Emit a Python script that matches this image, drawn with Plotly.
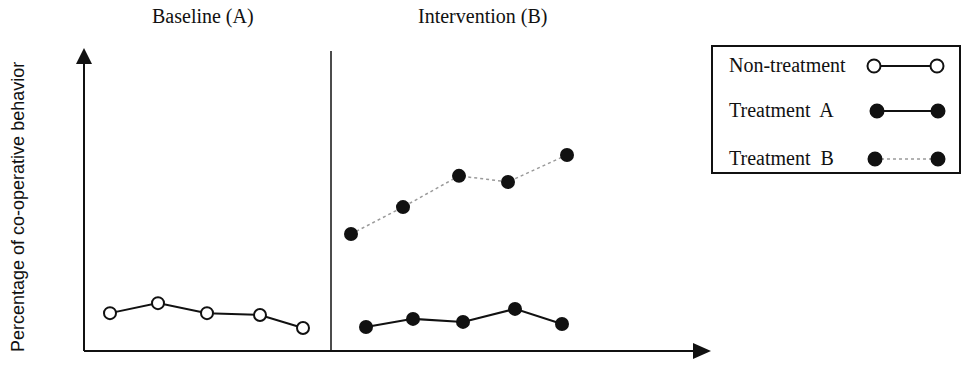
import plotly.graph_objects as go

# ---- data ----
sessions_base = [0.52, 1.48, 2.46, 3.52, 4.38]
non_treatment = [12.5, 15.8, 12.5, 11.9, 7.6]
sessions_a = [5.64, 6.58, 7.58, 8.62, 9.56]
treatment_a = [7.9, 10.6, 9.6, 13.9, 8.9]
sessions_b = [5.34, 6.38, 7.50, 8.48, 9.66]
treatment_b = [38.6, 47.5, 57.8, 55.8, 64.7]
phase_change = 4.94
phase_labels = ["Baseline (A)", "Intervention (B)"]
legend_labels = ["Non-treatment", "Treatment  A", "Treatment  B"]
y_title = "Percentage of co-operative behavior"

W, H = 973, 372
L, R, T, B = 84, 710, 48, 351
pw, ph = R - L, B - T

def px(x):
    return (x - L) / pw

def py(y):
    return (B - y) / ph

SERIF = "Liberation Serif, Times New Roman, serif"
SANS = "Liberation Sans, Arial, sans-serif"
INK = "#111111"

fig = go.Figure()
fig.add_trace(go.Scatter(
    x=sessions_base, y=non_treatment, mode="lines+markers", name=legend_labels[0],
    line=dict(color=INK, width=2),
    marker=dict(symbol="circle", size=12, color="white", line=dict(color=INK, width=2)),
))
fig.add_trace(go.Scatter(
    x=sessions_a, y=treatment_a, mode="lines+markers", name=legend_labels[1],
    line=dict(color=INK, width=2),
    marker=dict(symbol="circle", size=14, color=INK, line=dict(width=0)),
))
fig.add_trace(go.Scatter(
    x=sessions_b, y=treatment_b, mode="lines+markers", name=legend_labels[2],
    line=dict(color="#9a9a9a", width=1.5, dash="dot"),
    marker=dict(symbol="circle", size=14, color=INK, line=dict(width=0)),
))

shapes = []
# axes with arrows
shapes.append(dict(type="line", xref="paper", yref="paper", x0=0, x1=0, y0=0, y1=py(60),
                   line=dict(color=INK, width=2)))
shapes.append(dict(type="line", xref="paper", yref="paper", x0=0, x1=px(696), y0=0, y1=0,
                   line=dict(color=INK, width=2)))
shapes.append(dict(type="path", xref="paper", yref="paper",
                   path=f"M {px(L)} {py(48)} L {px(L-8)} {py(64)} L {px(L+8)} {py(64)} Z",
                   fillcolor=INK, line=dict(width=0)))
shapes.append(dict(type="path", xref="paper", yref="paper",
                   path=f"M {px(711)} {py(B)} L {px(693)} {py(B-8)} L {px(693)} {py(B+8)} Z",
                   fillcolor=INK, line=dict(width=0)))
# phase change line
shapes.append(dict(type="line", xref="x", yref="paper", x0=phase_change, x1=phase_change,
                   y0=0, y1=py(51), line=dict(color=INK, width=1.5)))
# legend box
shapes.append(dict(type="rect", xref="paper", yref="paper", x0=px(712), x1=px(960),
                   y0=py(173), y1=py(46), line=dict(color=INK, width=2), fillcolor="rgba(0,0,0,0)"))
# legend samples
rows = [66, 111, 159]
xs = [(874, 937), (877, 938), (875, 938)]
for i, (r, (a, b)) in enumerate(zip(rows, xs)):
    if i == 2:
        ln = dict(color="#9a9a9a", width=1.5, dash="dot")
    else:
        ln = dict(color=INK, width=2)
    shapes.append(dict(type="line", xref="paper", yref="paper", x0=px(a), x1=px(b),
                       y0=py(r), y1=py(r), line=ln))
    for cx in (a, b):
        if i == 0:
            shapes.append(dict(type="circle", xref="paper", yref="paper",
                               xsizemode="pixel", ysizemode="pixel", xanchor=px(cx), yanchor=py(r),
                               x0=-6.5, x1=6.5, y0=-6.5, y1=6.5,
                               fillcolor="white", line=dict(color=INK, width=2)))
        else:
            shapes.append(dict(type="circle", xref="paper", yref="paper",
                               xsizemode="pixel", ysizemode="pixel", xanchor=px(cx), yanchor=py(r),
                               x0=-7.5, x1=7.5, y0=-7.5, y1=7.5,
                               fillcolor=INK, line=dict(width=0)))

annotations = []
for lab, cx in zip(phase_labels, (203, 482)):
    annotations.append(dict(text=lab, xref="paper", yref="paper", x=px(cx), y=py(16),
                            xanchor="center", yanchor="middle", showarrow=False,
                            font=dict(family=SERIF, size=20, color=INK)))
for lab, r in zip(legend_labels, rows):
    annotations.append(dict(text=lab, xref="paper", yref="paper", x=px(727), y=py(r - 1),
                            xanchor="left", yanchor="middle", showarrow=False,
                            font=dict(family=SERIF, size=20, color=INK)))
annotations.append(dict(text=y_title, xref="paper", yref="paper", x=px(18), y=py(207),
                        xanchor="center", yanchor="middle",
                        textangle=-90, showarrow=False,
                        font=dict(family=SANS, size=18, color=INK)))

fig.update_layout(
    width=W, height=H,
    margin=dict(l=L, r=W - R, t=T, b=H - B, pad=0),
    paper_bgcolor="white", plot_bgcolor="white",
    showlegend=False,
    shapes=shapes, annotations=annotations,
    xaxis=dict(range=[0, pw / 50], showgrid=False, zeroline=False, showticklabels=False,
               ticks="", showline=False, fixedrange=True),
    yaxis=dict(range=[0, ph / 3.03], showgrid=False, zeroline=False, showticklabels=False,
               ticks="", showline=False, fixedrange=True),
)

fig.write_html("out.html", config={"displayModeBar": False},
               post_script="document.body.style.margin='0';document.body.style.overflow='hidden';")
